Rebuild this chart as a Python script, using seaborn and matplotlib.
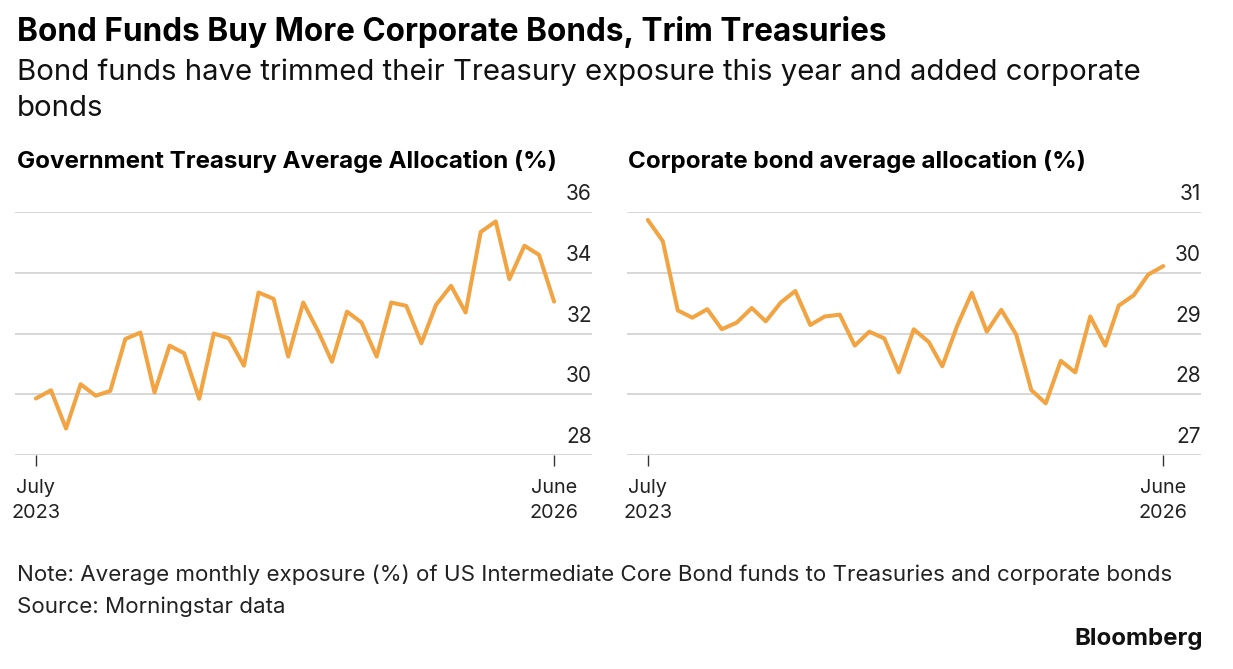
import matplotlib
matplotlib.use("Agg")
import matplotlib.pyplot as plt
import pandas as pd
import seaborn as sns

# monthly data, July 2023 .. June 2026
months = pd.date_range("2023-07-01", periods=36, freq="MS")
treasury = [29.86, 30.13, 28.87, 30.33, 29.95, 30.11, 31.82, 32.03, 30.06, 31.60,
            31.35, 29.85, 32.00, 31.84, 30.94, 33.35, 33.14, 31.24, 33.02, 32.06,
            31.07, 32.72, 32.36, 31.24, 33.02, 32.91, 31.68, 32.94, 33.57, 32.69,
            35.34, 35.69, 33.79, 34.89, 34.59, 33.05]
corporate = [30.87, 30.52, 29.38, 29.26, 29.40, 29.07, 29.18, 29.42, 29.20, 29.51,
             29.70, 29.14, 29.28, 29.31, 28.80, 29.03, 28.92, 28.36, 29.07, 28.86,
             28.46, 29.13, 29.67, 29.03, 29.39, 28.98, 28.07, 27.85, 28.55, 28.36,
             29.28, 28.80, 29.46, 29.63, 29.97, 30.11]
treasury_ticks = [28, 30, 32, 34, 36]
corporate_ticks = [27, 28, 29, 30, 31]
x_labels = ["July\n2023", "June\n2026"]
panel_titles = ["Government Treasury Average Allocation (%)",
                "Corporate bond average allocation (%)"]

sns.set_style("white")
plt.rcParams["font.family"] = ["Inter", "DejaVu Sans"]

W, H = 1233, 669
fig = plt.figure(figsize=(W / 100, H / 100), dpi=100)


def fx(px):
    return px / W


def fy(px):
    return 1 - px / H


orange = "#F2A443"
grid_c = "#d4d4d4"

fig.text(fx(17), fy(41), "Bond Funds Buy More Corporate Bonds, Trim Treasuries",
         fontsize=22.7, fontweight="bold", va="baseline", color="#000000")
fig.text(fx(17), fy(80), "Bond funds have trimmed their Treasury exposure this year and added corporate",
         fontsize=21.1, va="baseline", color="#111111")
fig.text(fx(17), fy(116), "bonds", fontsize=21.1, va="baseline", color="#111111")

panels = [
    (15, 592, treasury, treasury_ticks, 17),
    (627, 1201, corporate, corporate_ticks, 628),
]
for i, (x0, x1, vals, ticks, tx) in enumerate(panels):
    ax = fig.add_axes([fx(x0), fy(455), fx(x1 - x0), (455 - 212) / H])
    df = pd.DataFrame({"month": months, "value": vals})
    sns.lineplot(data=df, x="month", y="value", ax=ax, color=orange, linewidth=2.9)
    ax.set_ylim(ticks[0], ticks[-1])
    ax.set_xlim(months[0] - pd.Timedelta(days=43), months[-1] + pd.Timedelta(days=78))
    for t in ticks:
        ax.axhline(t, color=grid_c, linewidth=1.3, zorder=0)
        ax.annotate(str(t), xy=(1.0, t), xycoords=("axes fraction", "data"),
                    xytext=(0, 8.5), textcoords="offset points",
                    ha="right", va="baseline", fontsize=15, color="#222222",
                    annotation_clip=False)
    ax.set_yticks([])
    ax.set_xticks([months[0], months[-1]])
    ax.set_xticklabels(x_labels, fontsize=14.3, color="#222222", linespacing=1.5)
    ax.tick_params(axis="x", bottom=True, length=8, width=1, color="#333333", pad=9)
    ax.set_xlabel("")
    ax.set_ylabel("")
    for s in ax.spines.values():
        s.set_visible(False)
    fig.text(fx(tx), fy(168), panel_titles[i], fontsize=17.4, fontweight="bold",
             va="baseline", color="#000000")

fig.text(fx(17), fy(581),
         "Note: Average monthly exposure (%) of US Intermediate Core Bond funds to Treasuries and corporate bonds",
         fontsize=16.1, va="baseline", color="#222222")
fig.text(fx(17), fy(613), "Source: Morningstar data", fontsize=16.1, va="baseline", color="#222222")
fig.text(fx(1203), fy(645), "Bloomberg", fontsize=17.3, fontweight="bold", ha="right",
         va="baseline", color="#111111")

fig.savefig("out.png", dpi=100)
